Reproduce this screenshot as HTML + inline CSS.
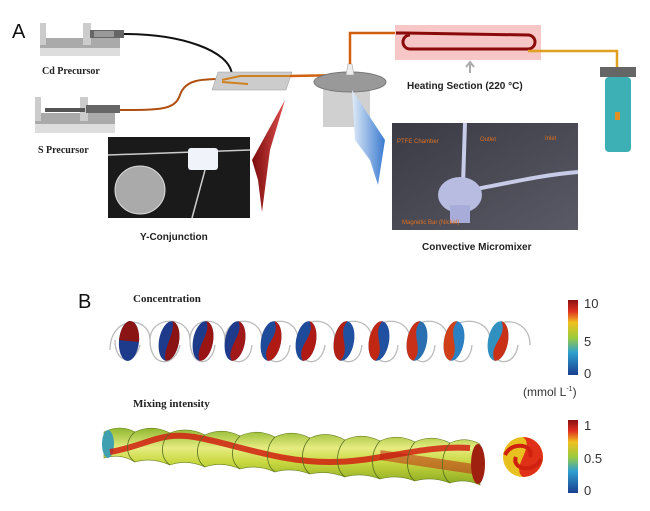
<!DOCTYPE html>
<html><head><meta charset="utf-8"><style>
html,body{margin:0;padding:0;background:#fff;}
svg{display:block}
.s{font-family:"Liberation Sans",sans-serif;font-weight:bold;fill:#222}
.r{font-family:"Liberation Serif",serif;font-weight:bold;fill:#222}
</style></head><body>
<svg width="650" height="511" viewBox="0 0 650 511" xmlns="http://www.w3.org/2000/svg">
<defs>
<linearGradient id="cb" x1="0" y1="1" x2="0" y2="0">
<stop offset="0" stop-color="#1a3f8f"/><stop offset="0.3" stop-color="#2fa0d0"/><stop offset="0.5" stop-color="#9ccc3c"/><stop offset="0.7" stop-color="#f0c020"/><stop offset="0.85" stop-color="#e03020"/><stop offset="1" stop-color="#8a1010"/></linearGradient>
<linearGradient id="tube" x1="0" y1="0" x2="0" y2="1">
<stop offset="0" stop-color="#8fb830"/><stop offset="0.35" stop-color="#e6ec80"/><stop offset="0.6" stop-color="#c8d840"/><stop offset="1" stop-color="#8aa820"/></linearGradient>
<linearGradient id="photo" x1="0" y1="0" x2="1" y2="1"><stop offset="0" stop-color="#3a3a44"/><stop offset="1" stop-color="#5a5a66"/></linearGradient>
<linearGradient id="ra" x1="0" y1="0" x2="1" y2="0"><stop offset="0" stop-color="#7a0a0a"/><stop offset="1" stop-color="#e05050"/></linearGradient>
<linearGradient id="ba" x1="0" y1="0" x2="1" y2="0"><stop offset="0" stop-color="#e0ecf8"/><stop offset="1" stop-color="#3a7ad0"/></linearGradient>
</defs>
<text x="12" y="38" font-family="Liberation Sans" font-size="20" fill="#111">A</text>
<!-- Cd pump -->
<rect x="40" y="38" width="80" height="18" fill="#aaa"/><rect x="40" y="48" width="80" height="8" fill="#ddd"/>
<rect x="40" y="23" width="6" height="22" fill="#ccc"/><rect x="83" y="23" width="8" height="22" fill="#ccc"/>
<rect x="90" y="30" width="34" height="8" fill="#666"/><rect x="94" y="31" width="20" height="6" fill="#999"/>
<path d="M124,34 C180,34 230,50 232,75" stroke="#111" stroke-width="2" fill="none"/>
<text x="42" y="74" class="r" font-size="10">Cd Precursor</text>
<!-- S pump -->
<rect x="35" y="113" width="80" height="20" fill="#aaa"/><rect x="35" y="124" width="80" height="9" fill="#ddd"/>
<rect x="35" y="97" width="6" height="24" fill="#ccc"/><rect x="80" y="97" width="8" height="24" fill="#ccc"/>
<rect x="45" y="108" width="40" height="4" fill="#555"/>
<rect x="86" y="105" width="34" height="8" fill="#666"/>
<path d="M120,110 C160,110 175,110 180,95 C185,80 200,79 222,79" stroke="#b05010" stroke-width="2" fill="none"/>
<text x="38" y="153" class="r" font-size="10">S Precursor</text>
<!-- chip -->
<polygon points="218,72 292,72 286,90 212,90" fill="#ccc" stroke="#999" stroke-width="0.5"/>
<path d="M222,80 L240,76 L290,76 M222,82 L248,84" stroke="#d08020" stroke-width="2" fill="none"/>
<path d="M290,76 L345,75" stroke="#d06010" stroke-width="2.5"/>
<!-- mixer -->
<rect x="323" y="82" width="47" height="45" fill="#d0d0d0"/>
<ellipse cx="350" cy="82" rx="36" ry="10" fill="#999" stroke="#777"/>
<path d="M346,75 L348,64 L352,64 L354,75 Z" fill="#eee" stroke="#999" stroke-width="0.5"/>
<path d="M350,64 L350,33 L396,33" stroke="#d06010" stroke-width="2.5" fill="none"/>
<!-- heating -->
<rect x="395" y="25" width="146" height="35" fill="#f7c6c6"/>
<path d="M396,33 L405,33 L528,35 A7,7 0 0,1 528,49 L410,49 A7,7 0 0,1 410,35" stroke="#8a0a0a" stroke-width="3" fill="none"/>
<path d="M528,51 L617,51 L617,70" stroke="#e0a020" stroke-width="2.5" fill="none"/>
<path d="M470,73 L470,64 M466,67 L470,62 L474,67" stroke="#aaa" stroke-width="2" fill="none"/>
<text x="407" y="89" class="s" font-size="10">Heating Section (220 °C)</text>
<!-- vial -->
<rect x="600" y="67" width="36" height="10" fill="#666"/>
<rect x="605" y="77" width="26" height="75" rx="4" fill="#3cb0b4"/>
<rect x="615" y="112" width="5" height="8" fill="#e09020"/>
<!-- arrows -->
<path d="M285,100 L270,150 L262,212 L258,180 L252,160 Z" fill="url(#ra)"/>
<path d="M352,90 L385,140 L378,185 L370,160 L355,140 Z" fill="url(#ba)"/>
<!-- Y photo -->
<rect x="108" y="137" width="142" height="81" fill="#1a1a1a"/>
<ellipse cx="140" cy="190" rx="25" ry="24" fill="#aaa" stroke="#ddd"/>
<path d="M108,155 L250,150" stroke="#ccc" stroke-width="1.5"/>
<rect x="188" y="148" width="30" height="22" rx="3" fill="#f0f4fa"/>
<path d="M205,170 L192,218" stroke="#ccc" stroke-width="1.5"/>
<text x="140" y="240" class="s" font-size="10">Y-Conjunction</text>
<!-- micromixer photo -->
<rect x="392" y="123" width="186" height="107" fill="url(#photo)"/>
<path d="M465,123 L463,185 M470,190 C500,185 540,175 578,172" stroke="#c8cce8" stroke-width="4" fill="none"/>
<ellipse cx="460" cy="195" rx="22" ry="18" fill="#b8bce0"/>
<rect x="450" y="205" width="20" height="18" fill="#a8acd8"/>
<text x="397" y="143" font-family="Liberation Sans" font-size="6" fill="#e07020">PTFE Chamber</text>
<text x="480" y="141" font-family="Liberation Sans" font-size="6" fill="#e07020">Outlet</text>
<text x="545" y="140" font-family="Liberation Sans" font-size="6" fill="#e07020">Inlet</text>
<text x="402" y="224" font-family="Liberation Sans" font-size="6" fill="#e07020">Magnetic Bar (Nickel)</text>
<text x="422" y="250" class="s" font-size="10">Convective Micromixer</text>
<!-- B -->
<text x="78" y="308" font-family="Liberation Sans" font-size="20" fill="#111">B</text>
<text x="133" y="302" class="r" font-size="11">Concentration</text>
<g stroke="#bbb" stroke-width="1.3" fill="none">
<path d="M110,350 C110,315 150,315 150,340 C150,315 190,315 190,340 C190,315 225,315 225,340 C225,315 262,315 262,340 C262,315 298,315 298,340 C298,315 335,315 335,340 C335,315 372,315 372,340 C372,315 410,315 410,340 C410,315 448,315 448,340 C448,315 490,315 490,340 C490,315 530,315 530,345"/>
<path d="M115,340 C115,365 135,365 140,345 M150,340 C150,368 175,368 180,345 M190,340 C190,368 212,368 215,345 M225,340 C225,368 250,368 252,345 M262,340 C262,368 288,368 290,345 M298,340 C298,368 322,368 325,345 M335,340 C335,368 360,368 362,345 M372,340 C372,368 396,368 398,345 M410,340 C410,368 433,368 435,345 M448,340 C448,368 470,368 472,345 M490,340 C490,368 515,368 518,345"/>
</g>
<g>
<g transform="translate(129,341) rotate(5)"><ellipse rx="10" ry="20" fill="#1e3a8a"/><path d="M-10,0 A10,20 0 0,1 10,0 Z" fill="#8a1414"/></g>
<g transform="translate(169,341) rotate(10)"><ellipse rx="10" ry="20" fill="#1e3a8a"/><path d="M0,-20 A10,20 0 0,1 0,20 C-5,8 5,-8 0,-20Z" fill="#8a1414"/></g>
<g transform="translate(203,341) rotate(10)"><ellipse rx="10" ry="20" fill="#1e3a8a"/><path d="M0,-20 A10,20 0 0,1 0,20 C-7,8 7,-8 0,-20Z" fill="#9a1414"/></g>
<g transform="translate(235,341) rotate(10)"><ellipse rx="10" ry="20" fill="#1e3a8a"/><path d="M0,-20 A10,20 0 0,1 0,20 C-8,8 8,-8 0,-20Z" fill="#a01818"/></g>
<g transform="translate(271,341) rotate(10)"><ellipse rx="10" ry="20" fill="#1e4a9a"/><path d="M0,-20 A10,20 0 0,1 0,20 C-9,6 9,-6 0,-20Z" fill="#b01a14"/></g>
<g transform="translate(306,341) rotate(10)"><ellipse rx="10" ry="20" fill="#1e4a9a"/><path d="M0,-20 A10,20 0 0,1 0,20 C-9,6 9,-6 0,-20Z" fill="#b01a14"/></g>
<g transform="translate(344,341) rotate(10)"><ellipse rx="10" ry="20" fill="#2050a0"/><path d="M0,-20 A10,20 0 0,0 0,20 C9,6 -9,-6 0,-20Z" fill="#b02014"/></g>
<g transform="translate(379,341) rotate(10)"><ellipse rx="10" ry="20" fill="#2050a0"/><path d="M0,-20 A10,20 0 0,0 0,20 C9,6 -9,-6 0,-20Z" fill="#c02814"/></g>
<g transform="translate(417,341) rotate(10)"><ellipse rx="10" ry="20" fill="#2a70b0"/><path d="M0,-20 A10,20 0 0,0 0,20 C9,6 -9,-6 0,-20Z" fill="#c83018"/></g>
<g transform="translate(454,341) rotate(10)"><ellipse rx="10" ry="20" fill="#2a80c0"/><path d="M0,-20 A10,20 0 0,0 0,20 C9,6 -9,-6 0,-20Z" fill="#d04018"/></g>
<g transform="translate(498,341) rotate(10)"><ellipse rx="10" ry="20" fill="#3090c0"/><path d="M0,-20 A10,20 0 0,1 0,20 C-9,6 9,-6 0,-20Z" fill="#c83018"/></g>
</g>
<rect x="568" y="300" width="10" height="75" fill="url(#cb)"/>
<g font-family="Liberation Sans" font-size="13" fill="#333">
<text x="584" y="308">10</text><text x="584" y="346">5</text><text x="584" y="378">0</text>
<text x="523" y="396" font-size="12">(mmol L<tspan dy="-5" font-size="7">-1</tspan><tspan dy="5">)</tspan></text>
<text x="584" y="430">1</text><text x="584" y="463">0.5</text><text x="584" y="495">0</text>
</g>
<text x="133" y="407" class="r" font-size="11">Mixing intensity</text>
<rect x="568" y="420" width="10" height="73" fill="url(#cb)"/>
<!-- helix tube -->
<path d="M104,432 Q120,424 135,432 Q152,424 170,433 Q187,426 205,435 Q222,427 240,436 Q257,428 275,437 Q292,429 310,438 Q327,430 345,440 Q362,432 380,441 Q397,433 415,442 Q432,434 450,443 Q465,436 480,444 L480,485 Q465,478 450,483 Q432,476 415,481 Q397,474 380,479 Q362,472 345,477 Q327,470 310,474 Q292,467 275,472 Q257,464 240,469 Q222,461 205,467 Q187,459 170,465 Q152,457 135,462 Q120,453 104,458 Z" fill="url(#tube)" stroke="#6a8020" stroke-width="0.6"/>
<ellipse cx="108" cy="444" rx="6" ry="14" fill="#40a0b0"/>
<path d="M110,452 C150,445 160,430 200,438 C240,446 280,462 330,462 C380,462 420,445 470,448" stroke="#d02010" stroke-width="6" fill="none" opacity="0.85"/>
<path d="M380,455 L480,470" stroke="#c02010" stroke-width="10" opacity="0.5"/>
<g stroke="#556b20" stroke-width="0.8" fill="none">
<path d="M135,432 C125,440 125,455 135,462 M170,433 C160,442 160,458 170,465 M205,435 C195,444 195,460 205,467 M240,436 C230,446 230,462 240,469 M275,437 C265,447 265,465 275,472 M310,438 C300,448 300,467 310,474 M345,440 C335,450 335,470 345,477 M380,441 C370,452 370,472 380,479 M415,442 C405,453 405,474 415,481 M450,443 C440,454 440,476 450,483"/>
</g>
<ellipse cx="478" cy="464" rx="7" ry="20" fill="#a02010"/>
<circle cx="523" cy="457" r="20" fill="#e8c020"/>
<path d="M523,437 A20,20 0 0,1 523,477 C510,467 536,447 523,437Z" fill="#e03018"/>
<path d="M505,455 C512,440 535,445 530,457 M541,459 C534,474 511,469 516,457" stroke="#d02010" stroke-width="4" fill="none"/>
</svg>
</body></html>
